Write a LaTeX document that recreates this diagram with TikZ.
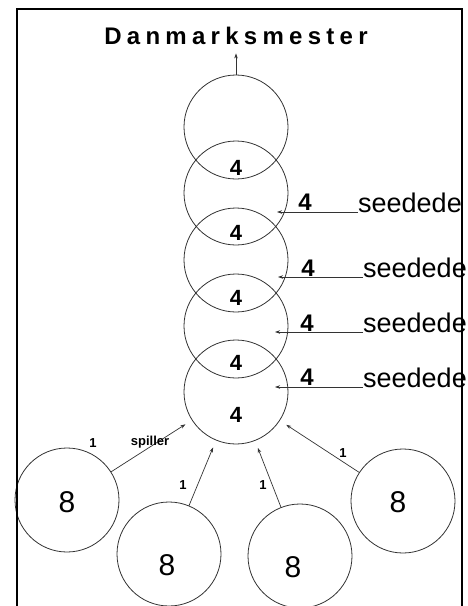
\documentclass[tikz,border=0pt]{standalone}
\usepackage{fontspec}
\setmainfont{Liberation Sans}
\newfontfamily\titlefont[LetterSpace=22]{Liberation Sans}
\usetikzlibrary{arrows.meta}

\begin{document}
\begin{tikzpicture}[x=1pt,y=-1pt,
  ring/.style={draw=black!80, line width=0.8pt, circle, minimum size=104pt, inner sep=0pt, outer sep=0pt},
  four/.style={font=\fontsize{22}{22}\selectfont\bfseries},
  seedfour/.style={font=\fontsize{24}{24}\selectfont\bfseries, anchor=base, inner sep=0pt},
  eight/.style={font=\fontsize{30}{30}\selectfont},
  seed/.style={font=\fontsize{27}{27}\selectfont, anchor=base west, inner sep=0pt},
  small/.style={font=\fontsize{13}{13}\selectfont\bfseries},
  arr/.style={-{Stealth[length=5pt,width=3.5pt]}, line width=0.7pt, draw=black!80}]
\useasboundingbox (0,0) rectangle (468,606);
\clip (0,0) rectangle (468,606);

\node[font=\titlefont\fontsize{24}{24}\selectfont\bfseries, anchor=base, inner sep=0pt] (title) at (236,44) {Danmarksmester};

% the stack of rounds
\node[ring] (c1) at (236,127) {};
\node[ring] (c2) at (236,193) {};
\node[ring] (c3) at (236,260) {};
\node[ring] (c4) at (236,326) {};
\node[ring] (c5) at (236,392) {};

\node[four] (n1) at (236,168) {4};
\node[four] (n2) at (236,233) {4};
\node[four] (n3) at (236,298) {4};
\node[four] (n4) at (236,363) {4};
\node[four] (n5) at (236,415) {4};

\draw[arr, shorten >=9pt] (c1.north) -- (title.south);

% seeded players
\coordinate (t1) at (277,212);
\coordinate (t2) at (278,277);
\coordinate (t3) at (275,332);
\coordinate (t4) at (275,387);

\node[seed] (sd1) at (358,212) {seedede};
\node[seed] (sd2) at (363,277) {seedede};
\node[seed] (sd3) at (363,332) {seedede};
\node[seed] (sd4) at (363,387) {seedede};

\node[seedfour] (f1) at (305,210) {4};
\node[seedfour] (f2) at (308,276) {4};
\node[seedfour] (f3) at (307,331) {4};
\node[seedfour] (f4) at (307,385) {4};

\draw[arr] (sd1.base west) -- (t1);
\draw[arr] (sd2.base west) -- (t2);
\draw[arr] (sd3.base west) -- (t3);
\draw[arr] (sd4.base west) -- (t4);

% qualifying groups
\node[ring] (b1) at (67,500) {};
\node[ring] (b2) at (169,554) {};
\node[ring] (b3) at (300,556) {};
\node[ring] (b4) at (403,501) {};

\node[eight] (e1) at (67,502) {8};
\node[eight] (e2) at (167,565) {8};
\node[eight] (e3) at (293,567) {8};
\node[eight] (e4) at (398,502) {8};

\draw[arr, shorten >=8pt] (b1) -- (c5);
\draw[arr, shorten >=8pt] (b2) -- (c5);
\draw[arr, shorten >=8pt] (b3) -- (c5);
\draw[arr, shorten >=8pt] (b4) -- (c5);

\node[small] (l1) at (93,443) {1};
\node[small] (sp) at (150,442) {spiller};
\node[small] (l2) at (183,485) {1};
\node[small] (l3) at (263,485) {1};
\node[small] (l4) at (343,453) {1};

\draw[line width=1.2pt] (17,640) |- (462,9) -- (462,640);
\end{tikzpicture}
\end{document}
